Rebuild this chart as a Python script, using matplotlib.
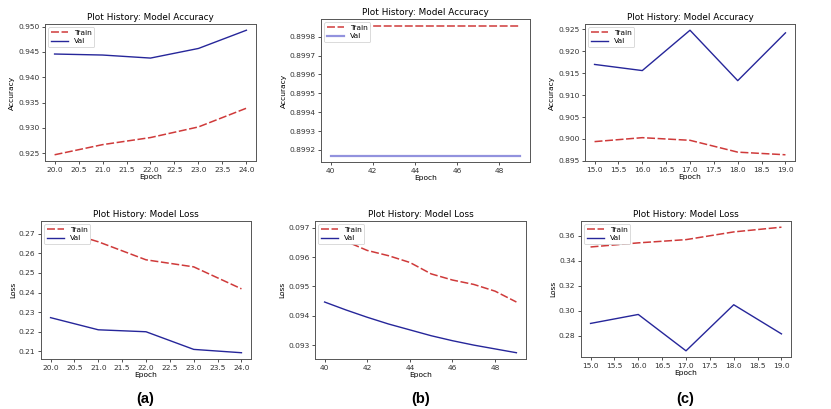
import matplotlib
matplotlib.use("Agg")
import matplotlib.pyplot as plt
from matplotlib.ticker import MultipleLocator, FormatStrFormatter

# ---- data ----
epochs_a = [20, 21, 22, 23, 24]
acc_train_a = [0.9247, 0.9267, 0.9281, 0.9302, 0.9339]
acc_val_a = [0.9446, 0.9444, 0.9438, 0.9457, 0.9493]
loss_train_a = [0.2733, 0.2659, 0.2567, 0.2531, 0.2419]
loss_val_a = [0.2272, 0.2210, 0.2200, 0.2110, 0.2093]

epochs_b = [40, 41, 42, 43, 44, 45, 46, 47, 48, 49]
acc_train_b = [0.89986] * 10
acc_val_b = [0.89917] * 10
loss_train_b = [0.09702, 0.09654, 0.09623, 0.09605, 0.09582, 0.09543, 0.09522, 0.09507, 0.09484, 0.09447]
loss_val_b = [0.09447, 0.09420, 0.09395, 0.09372, 0.09352, 0.09332, 0.09315, 0.09300, 0.09287, 0.09274]

epochs_c = [15, 16, 17, 18, 19]
acc_train_c = [0.8994, 0.9003, 0.8997, 0.8970, 0.8964]
acc_val_c = [0.9170, 0.9156, 0.9248, 0.9133, 0.9242]
loss_train_c = [0.3511, 0.3544, 0.3570, 0.3632, 0.3670]
loss_val_c = [0.2897, 0.2969, 0.2677, 0.3047, 0.2813]

panel_labels = ["(a)", "(b)", "(c)"]

TRAIN_C = "#cf3a3a"
VAL_C = "#26269a"
FS = 5.4

fig = plt.figure(figsize=(8.31, 4.09), dpi=100)
W, H = 831.0, 409.0

def axes_px(l, t, r, b):
    return fig.add_axes([l / W, (H - b) / H, (r - l) / W, (b - t) / H])

def style(ax, title, ylabel, xstep, xfmt, ystep, yfmt):
    ax.set_title(title, fontsize=6.4, pad=3)
    ax.set_xlabel("Epoch", fontsize=FS, labelpad=1)
    ax.set_ylabel(ylabel, fontsize=FS, labelpad=2)
    ax.xaxis.set_major_locator(MultipleLocator(xstep))
    ax.xaxis.set_major_formatter(FormatStrFormatter(xfmt))
    ax.yaxis.set_major_locator(MultipleLocator(ystep))
    ax.yaxis.set_major_formatter(FormatStrFormatter(yfmt))
    ax.tick_params(labelsize=FS, length=2.5, width=0.6, pad=1.5, colors="#333333")
    for s in ax.spines.values():
        s.set_linewidth(0.7)
        s.set_color("#555555")
    leg = ax.legend(loc="upper left", fontsize=FS, handlelength=2.3,
                    borderpad=0.35, labelspacing=0.3, framealpha=1.0,
                    borderaxespad=0.4)
    leg.get_frame().set_linewidth(0.5)

def draw(ax, x, tr, va, val_color=VAL_C, val_lw=1.0):
    ax.plot(x, tr, color=TRAIN_C, linestyle=(0, (5.2, 1.7)), linewidth=1.1, label="Train")
    ax.plot(x, va, color=val_color, linewidth=val_lw, label="Val")

# top row
ax1 = axes_px(45, 24, 256, 161)
draw(ax1, epochs_a, acc_train_a, acc_val_a)
style(ax1, "Plot History: Model Accuracy", "Accuracy", 0.5, "%.1f", 0.005, "%.3f")

ax2 = axes_px(321, 19, 530, 162)
draw(ax2, epochs_b, acc_train_b, acc_val_b, val_color="#9292de", val_lw=1.6)
style(ax2, "Plot History: Model Accuracy", "Accuracy", 2, "%d", 0.0001, "%.4f")

ax3 = axes_px(585, 24, 795, 161)
draw(ax3, epochs_c, acc_train_c, acc_val_c)
style(ax3, "Plot History: Model Accuracy", "Accuracy", 0.5, "%.1f", 0.005, "%.3f")

# bottom row
ax4 = axes_px(41, 221, 251, 359)
draw(ax4, epochs_a, loss_train_a, loss_val_a)
style(ax4, "Plot History: Model Loss", "Loss", 0.5, "%.1f", 0.01, "%.2f")

ax5 = axes_px(315, 221, 526, 359)
draw(ax5, epochs_b, loss_train_b, loss_val_b)
style(ax5, "Plot History: Model Loss", "Loss", 2, "%d", 0.001, "%.3f")

ax6 = axes_px(581, 221, 791, 357)
draw(ax6, epochs_c, loss_train_c, loss_val_c)
style(ax6, "Plot History: Model Loss", "Loss", 0.5, "%.1f", 0.02, "%.2f")

for lbl, xc in zip(panel_labels, [145, 421, 685]):
    fig.text(xc / W, (H - 399) / H, lbl, ha="center", va="center",
             fontsize=10.5, fontweight="bold", family="Liberation Sans")

fig.savefig("out.png", dpi=100)
